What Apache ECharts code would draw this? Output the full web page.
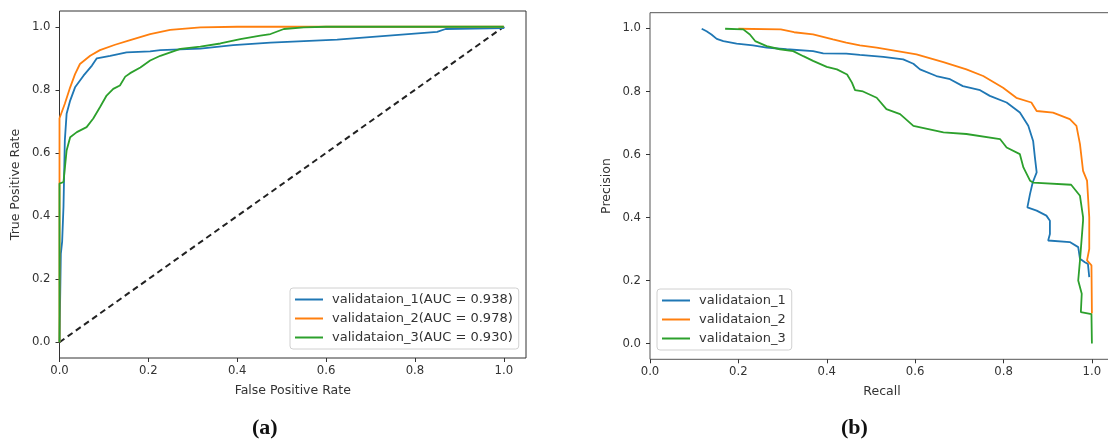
<!DOCTYPE html>
<html>
<head>
<meta charset="utf-8">
<script src="https://cdn.jsdelivr.net/npm/echarts@6/dist/echarts.min.js"></script>
<style>
html,body{margin:0;padding:0;background:#fff;}
#c{width:1108px;height:444px;}
</style>
</head>
<body>
<div id="c"></div>
<script>
// ---- ROC curves (False Positive Rate, True Positive Rate) ----
const rocNames = ['validataion_1(AUC = 0.938)', 'validataion_2(AUC = 0.978)', 'validataion_3(AUC = 0.930)'];
const roc1 = [[0,0],[0.003,0.28],[0.006,0.32],[0.009,0.43],[0.012,0.64],[0.016,0.724],[0.024,0.766],[0.035,0.808],[0.054,0.845],[0.073,0.877],[0.084,0.9],[0.114,0.908],[0.151,0.919],[0.204,0.922],[0.227,0.926],[0.317,0.931],[0.391,0.942],[0.475,0.95],[0.625,0.959],[0.85,0.984],[0.869,0.993],[1.0,0.996],[1.0,1.0]];
const roc2 = [[0,0],[0,0.71],[0.012,0.756],[0.024,0.808],[0.035,0.85],[0.046,0.882],[0.069,0.908],[0.091,0.926],[0.125,0.943],[0.159,0.958],[0.204,0.977],[0.249,0.99],[0.317,0.998],[0.4,1.0],[1.0,1.0]];
const roc3 = [[0,0],[0,0.503],[0.009,0.508],[0.016,0.608],[0.024,0.65],[0.039,0.666],[0.061,0.682],[0.076,0.709],[0.091,0.745],[0.106,0.782],[0.121,0.803],[0.136,0.814],[0.148,0.842],[0.159,0.853],[0.182,0.871],[0.204,0.893],[0.227,0.908],[0.272,0.93],[0.317,0.937],[0.362,0.947],[0.407,0.961],[0.452,0.972],[0.475,0.977],[0.505,0.993],[0.55,0.998],[0.6,1.0],[1.0,1.0]];
const diagonal = [[0,0],[1,1]];

// ---- Precision-Recall curves (Recall, Precision) ----
const prNames = ['validataion_1', 'validataion_2', 'validataion_3'];
const pr1 = [[0.117,0.999],[0.128,0.991],[0.139,0.981],[0.151,0.967],[0.166,0.96],[0.196,0.952],[0.233,0.946],[0.264,0.939],[0.309,0.934],[0.369,0.928],[0.392,0.921],[0.444,0.92],[0.475,0.916],[0.528,0.91],[0.573,0.902],[0.596,0.888],[0.611,0.87],[0.648,0.849],[0.679,0.839],[0.708,0.817],[0.747,0.804],[0.769,0.786],[0.807,0.765],[0.837,0.733],[0.856,0.691],[0.867,0.643],[0.871,0.591],[0.875,0.543],[0.866,0.511],[0.86,0.475],[0.854,0.432],[0.875,0.422],[0.897,0.406],[0.905,0.39],[0.905,0.348],[0.901,0.327],[0.95,0.322],[0.969,0.306],[0.973,0.269],[0.984,0.258],[0.991,0.253],[0.994,0.211]];
const pr2 = [[0.2,0.999],[0.296,0.997],[0.326,0.988],[0.369,0.981],[0.414,0.965],[0.444,0.955],[0.475,0.946],[0.513,0.939],[0.603,0.918],[0.664,0.893],[0.716,0.87],[0.754,0.849],[0.799,0.812],[0.829,0.78],[0.863,0.765],[0.875,0.738],[0.912,0.733],[0.95,0.712],[0.965,0.691],[0.973,0.633],[0.98,0.548],[0.989,0.517],[0.994,0.401],[0.994,0.3],[0.989,0.264],[0.999,0.248],[1.0,0.095]];
const pr3 = [[0.17,0.999],[0.211,0.997],[0.226,0.981],[0.238,0.96],[0.264,0.944],[0.294,0.934],[0.324,0.928],[0.347,0.912],[0.369,0.897],[0.4,0.878],[0.423,0.87],[0.446,0.854],[0.457,0.828],[0.464,0.804],[0.482,0.8],[0.513,0.78],[0.535,0.744],[0.566,0.728],[0.596,0.691],[0.664,0.67],[0.716,0.665],[0.792,0.649],[0.807,0.622],[0.837,0.601],[0.845,0.559],[0.86,0.517],[0.867,0.511],[0.953,0.504],[0.973,0.469],[0.98,0.401],[0.98,0.39],[0.973,0.264],[0.969,0.2],[0.977,0.158],[0.975,0.1],[0.999,0.093],[1.0,0.0]];

const colors = ['#1f77b4', '#ff7f0e', '#2ca02c'];
const tickValues = [0, 0.2, 0.4, 0.6, 0.8, 1.0];
const tickLabels = ['0.0', '0.2', '0.4', '0.6', '0.8', '1.0'];

const FONT = 'DejaVu Sans';
function fmt(v) {
  const k = Math.round(v * 5);
  if (Math.abs(v * 5 - k) > 1e-6 || k < 0 || k > 5) return '';
  return tickLabels[k];
}
function axisCommon(min, max, name, pos, gap, extra) {
  return Object.assign({
    type: 'value', min: min, max: max, splitNumber: 5,
    name: name, nameLocation: 'middle', nameGap: gap,
    nameTextStyle: { fontFamily: FONT, fontSize: 12.5, color: '#333' },
    axisLine: { show: false, onZero: false },
    axisTick: { show: true, length: 4, customValues: tickValues, lineStyle: { color: '#333', width: 1 } },
    axisLabel: { fontFamily: FONT, fontSize: 11.7, color: '#333', margin: pos === 'x' ? 7 : 9, formatter: fmt, customValues: tickValues },
    splitLine: { show: false }
  }, extra || {});
}

function line(name, data, color, xi, extra) {
  return Object.assign({
    type: 'line', name: name, data: data, xAxisIndex: xi, yAxisIndex: xi,
    showSymbol: false, symbol: 'none', silent: true,
    lineStyle: { color: color, width: 1.8 }, itemStyle: { color: color },
    z: 3
  }, extra || {});
}

const chart = echarts.init(document.getElementById('c'), null, { renderer: 'canvas' });
const legendCommon = {
  orient: 'vertical', icon: 'rect', itemWidth: 28, itemHeight: 2, itemGap: 6,
  textStyle: { fontFamily: FONT, fontSize: 13, color: '#333', padding: [0, 0, 0, 4] },
  borderColor: '#d0d0d0', borderWidth: 1, borderRadius: 3, backgroundColor: 'rgba(255,255,255,0.85)',
  padding: [5, 6, 5, 5], selectedMode: false
};
chart.setOption({
  animation: false,
  grid: [
    { left: 59.5, top: 11, width: 466.5, height: 347, outerBoundsMode: 'none', containLabel: false, show: true, borderColor: '#333', borderWidth: 1, backgroundColor: 'transparent' },
    { left: 650, top: 12.7, width: 464, height: 346.6, outerBoundsMode: 'none', containLabel: false, show: true, borderColor: '#555', borderWidth: 1, backgroundColor: 'transparent' }
  ],
  xAxis: [
    axisCommon(0, 1.05, 'False Positive Rate', 'x', 26, { gridIndex: 0 }),
    axisCommon(0, 1.05, 'Recall', 'x', 26, { gridIndex: 1 })
  ],
  yAxis: [
    axisCommon(-0.05, 1.05, 'True Positive Rate', 'y', 37, { gridIndex: 0 }),
    axisCommon(-0.05, 1.05, 'Precision', 'y', 37, { gridIndex: 1 })
  ],
  legend: [
    Object.assign({ left: 290, top: 288, data: rocNames }, legendCommon),
    Object.assign({ left: 657, top: 289, data: prNames }, legendCommon)
  ],
  graphic: [
    { type: 'text', left: 252, top: 417, style: { text: '(a)', font: 'bold 22px "Liberation Serif"', fill: '#111' } },
    { type: 'text', left: 841, top: 417, style: { text: '(b)', font: 'bold 22px "Liberation Serif"', fill: '#111' } }
  ],
  series: [
    line('diag', diagonal, '#222', 0, { lineStyle: { color: '#222', width: 2, type: [6, 4] }, z: 2 }),
    line(rocNames[0], roc1, colors[0], 0),
    line(rocNames[1], roc2, colors[1], 0),
    line(rocNames[2], roc3, colors[2], 0),
    line(prNames[0], pr1, colors[0], 1),
    line(prNames[1], pr2, colors[1], 1),
    line(prNames[2], pr3, colors[2], 1)
  ]
});
</script>
</body>
</html>
